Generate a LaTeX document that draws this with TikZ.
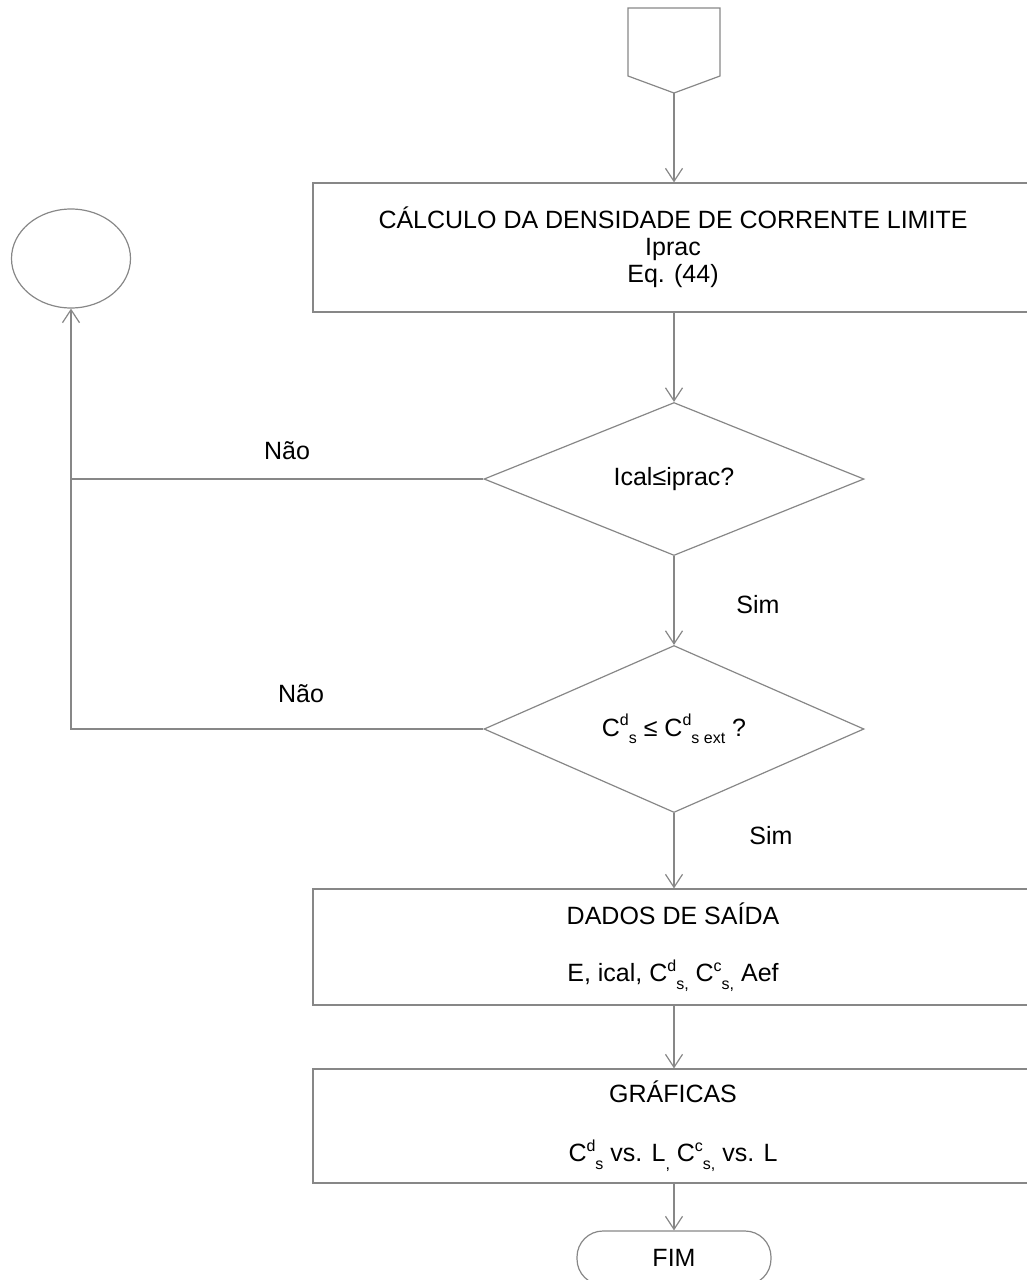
\documentclass[tikz,border=0pt]{standalone}
\usepackage{fontspec}
\setmainfont{Liberation Sans}
\usetikzlibrary{shapes.geometric,arrows.meta}
\definecolor{linegray}{RGB}{135,135,135}
\newcommand\SupSub[2]{\raisebox{0.42em}{\fontsize{16}{16}\selectfont #1}\raisebox{-0.3em}{\fontsize{16}{16}\selectfont #2}}
\begin{document}
\begin{tikzpicture}[x=1pt,y=-1pt,
  every node/.style={font=\fontsize{25}{27}\selectfont, text=black},
  ln/.style={draw=linegray, line width=1.2pt},
  arr/.style={ln, -{Straight Barb[length=13pt,width=17pt,line width=1.2pt]}},
  procbox/.style={draw=linegray, line width=1.2pt, rectangle, minimum width=720pt, inner sep=0pt, align=center},
  decision/.style={draw=linegray, line width=1.2pt, diamond, shape aspect=2.3, inner sep=0pt, minimum width=380pt, align=center},
  lbl/.style={inner sep=0pt}]
\useasboundingbox (0,0) rectangle (1026,1280);
% off-page connector
\draw[ln] (628,8) -- (720,8) -- (720,76) -- (674,93) -- (628,76) -- cycle;
\coordinate (start) at (674,93);
% nodes
\node[procbox, minimum height=129pt] (calc) at (673,247.5)
  {CÁLCULO DA DENSIDADE DE CORRENTE LIMITE\\Iprac\\Eq. (44)};
\node[decision, minimum height=153pt] (d1) at (674,479) {Ical≤iprac?};
\node[decision, minimum height=167pt] (d2) at (674,729)
  {C\SupSub{d}{s} ≤ C\SupSub{d}{s ext} ?};
\node[procbox, minimum height=116pt] (out) at (673,947)
  {DADOS DE SAÍDA\\[30pt]E, ical, C\SupSub{d}{s,} C\SupSub{c}{s,} Aef};
\node[procbox, minimum height=114pt] (graf) at (673,1126)
  {GRÁFICAS\\[32pt]C\SupSub{d}{s} vs. L\SupSub{}{,} C\SupSub{c}{s,} vs. L};
\node[draw=linegray, line width=1.2pt, rectangle, rounded corners=26pt,
  minimum width=194pt, minimum height=54pt, inner sep=0pt] (fim) at (674,1258) {FIM};
\node[draw=linegray, line width=1.2pt, ellipse, minimum width=119pt,
  minimum height=99pt, inner sep=0pt] (conn) at (71,258.5) {};
% labels
\node[lbl] (sim1) at (758,605) {Sim};
\node[lbl] (sim2) at (771,836) {Sim};
\node[lbl] (nao1) at (287,451) {Não};
\node[lbl] (nao2) at (301,694) {Não};
% connectors
\draw[arr] (start) -- (start |- calc.north);
\draw[arr] (calc.south -| d1.north) -- (d1.north);
\draw[arr] (d1.south) -- (d2.north);
\draw[arr] (d2.south) -- (d2.south |- out.north);
\draw[arr] (out.south -| d2.south) -- (d2.south |- graf.north);
\draw[arr] (graf.south -| fim.north) -- (fim.north);
\draw[ln] (d1.west) -- (d1.west -| conn.south);
\draw[arr] (d2.west) -| (conn.south);
\end{tikzpicture}
\end{document}
